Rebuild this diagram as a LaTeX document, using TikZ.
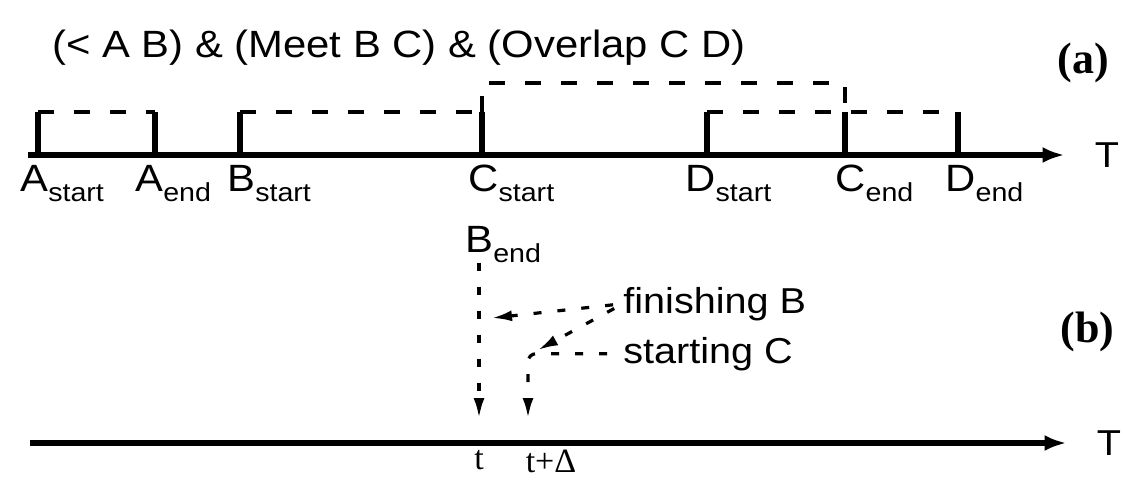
\documentclass[tikz,border=0pt]{standalone}
\usepackage{fontspec}
\setmainfont{Liberation Sans}[FakeStretch=1.1]
\newfontfamily\tagfont{Liberation Serif}
\usetikzlibrary{arrows.meta,positioning,calc}

\newcommand{\tsub}[1]{\raisebox{-5pt}{\fontsize{13}{14}\selectfont #1}}

\tikzset{
axisline/.style={line width=3pt, -{Latex[length=11pt,width=8pt]}},
tickline/.style={line width=2.6pt},
spanline/.style={line width=2.2pt, dash pattern=on 8pt off 10pt},
leader/.style={line width=1.6pt, dash pattern=on 4pt off 8pt, -{Latex[length=10pt,width=5.5pt]}},
ptlabel/.style={anchor=base west, inner sep=0pt, font=\fontsize{19}{22}\selectfont},
note/.style={anchor=base west, inner sep=0pt, font=\fontsize{18}{21}\selectfont},
axislabel/.style={inner sep=0pt, font=\fontsize{18}{21}\selectfont},
tlabel/.style={anchor=north, inner sep=0pt, font=\tagfont\fontsize{17}{20}\selectfont},
tag/.style={anchor=base west, inner sep=0pt, font=\tagfont\bfseries\fontsize{22}{26}\selectfont}
}

\begin{document}
\begin{tikzpicture}[x=0.5pt,y=-0.5pt]
\useasboundingbox (0,0) rectangle (1123,479);
\clip (0,0) rectangle (1123,479);

% title and panel tags
\node[ptlabel] (title) at (52,57) {(< A B) \& (Meet B C) \& (Overlap C D)};
\node[tag] (taga) at (1057,73) {(a)};
\node[tag] (tagb) at (1060,342) {(b)};

% (a) intervals on the time axis
\coordinate (T0) at (28,155);
\node[axislabel] (Ta) at (1107,155) {T};
\draw[axisline, shorten >=15pt] (T0) -- (Ta);

\coordinate (As) at (38,155);
\coordinate (Ae) at (155,155);
\coordinate (Bs) at (240,155);
\coordinate (Cs) at (482,155);
\coordinate (Ds) at (707,155);
\coordinate (Ce) at (845,155);
\coordinate (De) at (958,155);
\coordinate (As top) at (38,112);
\coordinate (Ae top) at (155,112);
\coordinate (Bs top) at (240,112);
\coordinate (Cs top) at (482,112);
\coordinate (Ds top) at (707,112);
\coordinate (Ce top) at (845,112);
\coordinate (De top) at (958,112);

\draw[tickline] (As) -- (As top);
\draw[tickline] (Ae) -- (Ae top);
\draw[tickline] (Bs) -- (Bs top);
\draw[tickline] (Cs) -- (Cs top);
\draw[tickline] (Ds) -- (Ds top);
\draw[tickline] (Ce) -- (Ce top);
\draw[tickline] (De) -- (De top);

\draw[spanline] (As top) -- (Ae top);
\draw[spanline] (Bs top) -- (Cs top);
\draw[spanline] (Ds top) -- (De top);
\draw[spanline] (Cs top) -- ++(0,-29) -| (Ce top);

\node[ptlabel] (lAs) at (20,191) {A\tsub{start}};
\node[ptlabel] (lAe) at (135,191) {A\tsub{end}};
\node[ptlabel] (lBs) at (227,191) {B\tsub{start}};
\node[ptlabel] (lCs) at (468,191) {C\tsub{start}};
\node[ptlabel] (lDs) at (685,191) {D\tsub{start}};
\node[ptlabel] (lCe) at (835,191) {C\tsub{end}};
\node[ptlabel] (lDe) at (945,191) {D\tsub{end}};
\node[ptlabel] (lBe) at (465,252) {B\tsub{end}};

% (b) the same change seen at the sampled times
\coordinate (U0) at (30,443);
\node[axislabel] (Tb) at (1109,443) {T};
\draw[axisline, shorten >=15pt] (U0) -- (Tb);

\coordinate (tB) at (479,418);
\coordinate (tC) at (528,418);
\coordinate (cornerC) at (528,358);
\coordinate (finB) at (492,318);
\coordinate (finC) at (538,350);

\node[note] (fin) at (623,313) {finishing B};
\node[note] (sta) at (623,363) {starting C};

\draw[leader] (lBe.south -| tB) -- (tB);
\draw[leader, rounded corners=4pt, shorten <=8pt] (sta.west) -- (sta.west -| cornerC) -- (tC);
\draw[leader, shorten <=5pt] (fin.west) -- (finB);
\draw[leader, shorten <=5pt] (fin.west) -- (finC);

\node[tlabel] (lt) at (479,450) {t};
\node[tlabel] (ltd) at (551,450) {t+Δ};
\end{tikzpicture}
\end{document}
